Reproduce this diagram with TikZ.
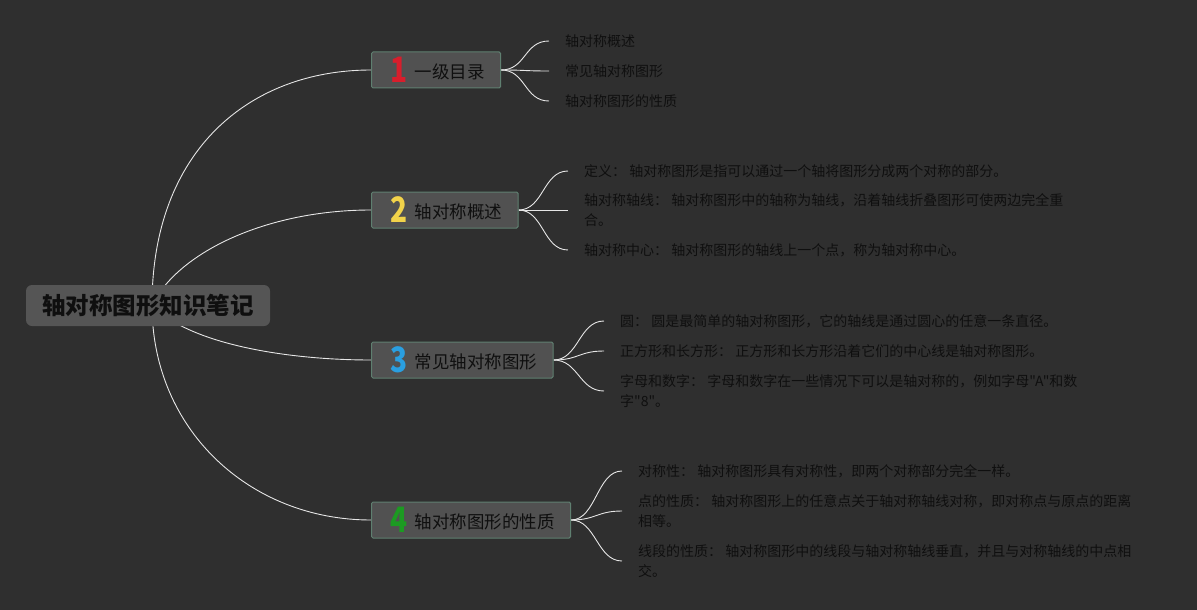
\documentclass[tikz,border=0pt]{standalone}
\usepackage{xcolor}
\usepackage{fontspec}
\setmainfont{Noto Sans CJK SC}[Ligatures=TeXOff]
\usetikzlibrary{backgrounds}

\definecolor{bgcol}{HTML}{2F2F2F}
\definecolor{rootcol}{HTML}{555555}
\definecolor{boxcol}{HTML}{515151}
\definecolor{edgecol}{HTML}{5F7F70}
\definecolor{inkcol}{HTML}{0F0F0F}
\definecolor{linkcol}{HTML}{E6E6E6}
\definecolor{numred}{HTML}{D81E2C}
\definecolor{numyellow}{HTML}{F2D34A}
\definecolor{numblue}{HTML}{2A9FE0}
\definecolor{numgreen}{HTML}{1C9A22}

\newcommand{\branchnum}[2]{\hspace{3pt}\raisebox{-4pt}{\color{#1}\bfseries\fontsize{35}{35}\selectfont\scalebox{0.8}[1]{#2}}\hspace{7pt}}

\begin{document}
\begin{tikzpicture}[x=1pt, y=-1pt,
  every node/.style={font=\fontsize{14}{20}\selectfont, text=inkcol},
  rootbox/.style={fill=rootcol, rounded corners=6pt, minimum width=244pt, minimum height=41pt, font=\fontsize{23.5}{24}\selectfont\bfseries},
  branchbox/.style={draw=edgecol, line width=1pt, fill=boxcol, rounded corners=1.5pt, minimum height=36pt, inner xsep=16pt, anchor=west, font=\fontsize{17.5}{20}\selectfont},
  leaf/.style={anchor=west, align=left, inner xsep=16pt, inner ysep=1pt},
  link/.style={draw=linkcol, line width=0.9pt}]
  \useasboundingbox (0,0) rectangle (1197,610);

  \node[rootbox] (root) at (148,305.5) {轴对称图形知识笔记};
  \coordinate (hub) at (152,305);

  \node[branchbox] (b1) at (371,70) {\branchnum{numred}{1}一级目录};
  \node[branchbox] (b2) at (371,210) {\branchnum{numyellow}{2}轴对称概述};
  \node[branchbox] (b3) at (371,360) {\branchnum{numblue}{3}常见轴对称图形};
  \node[branchbox] (b4) at (371,520) {\branchnum{numgreen}{4}轴对称图形的性质};

  \node[leaf] (l11) at (549,41) {轴对称概述};
  \node[leaf] (l12) at (549,71) {常见轴对称图形};
  \node[leaf] (l13) at (549,101) {轴对称图形的性质};

  \node[leaf] (l21) at (568,171) {定义： 轴对称图形是指可以通过一个轴将图形分成两个对称的部分。};
  \node[leaf] (l22) at (568,210) {轴对称轴线： 轴对称图形中的轴称为轴线，沿着轴线折叠图形可使两边完全重\\合。};
  \node[leaf] (l23) at (568,250) {轴对称中心： 轴对称图形的轴线上一个点，称为轴对称中心。};

  \node[leaf] (l31) at (604,321) {圆： 圆是最简单的轴对称图形，它的轴线是通过圆心的任意一条直径。};
  \node[leaf] (l32) at (604,351) {正方形和长方形： 正方形和长方形沿着它们的中心线是轴对称图形。};
  \node[leaf] (l33) at (604,391) {字母和数字： 字母和数字在一些情况下可以是轴对称的，例如字母"A"和数\\字"8"。};

  \node[leaf] (l41) at (622,471) {对称性： 轴对称图形具有对称性，即两个对称部分完全一样。};
  \node[leaf] (l42) at (622,511) {点的性质： 轴对称图形上的任意点关于轴对称轴线对称，即对称点与原点的距离\\相等。};
  \node[leaf] (l43) at (622,561) {线段的性质： 轴对称图形中的线段与轴对称轴线垂直，并且与对称轴线的中点相\\交。};

  \begin{scope}[on background layer]
    \fill[bgcol] (0,0) rectangle (1197,610);
    \draw[link] (hub) .. controls +(0,-155) and +(-121,0) .. (b1.west);
    \draw[link] (hub) .. controls +(28,-55) and +(-101,0) .. (b2.west);
    \draw[link] (hub) .. controls +(38,40) and +(-81,0) .. (b3.west);
    \draw[link] (hub) .. controls +(0,125) and +(-121,0) .. (b4.west);
    \foreach \b/\l in {b1/l11, b1/l12, b1/l13, b2/l21, b2/l22, b2/l23, b3/l31, b3/l32, b3/l33, b4/l41, b4/l42, b4/l43}
      \draw[link] (\b.east) .. controls +(25,0) and +(-25,0) .. (\l.west);
  \end{scope}
\end{tikzpicture}
\end{document}
